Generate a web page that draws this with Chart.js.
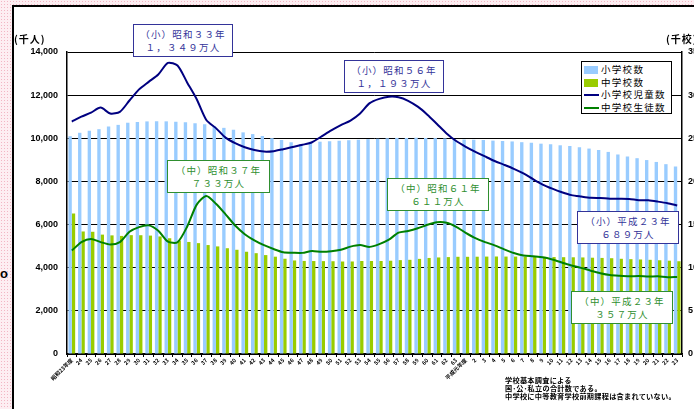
<!DOCTYPE html>
<html><head><meta charset="utf-8">
<script src="https://cdn.jsdelivr.net/npm/chart.js@4.4.1/dist/chart.umd.min.js"></script>
<style>
html,body{margin:0;padding:0;width:694px;height:409px;overflow:hidden;background:#fff;font-family:"Noto Sans CJK JP",sans-serif;}
#wrap{position:absolute;left:0;top:0;width:720px;height:409px;}
.pinkL{position:absolute;left:0;top:0;width:12px;height:409px;background-color:#fdeef2;background-image:radial-gradient(#f2b6c4 0.8px,transparent 0.9px);background-size:3px 3px;}
.pinkT{position:absolute;left:0;top:0;width:694px;height:5px;background-color:#fdeef2;background-image:radial-gradient(#f2b6c4 0.8px,transparent 0.9px);background-size:3px 3px;}
.vline{position:absolute;left:12px;top:5px;width:2px;height:404px;background:#000;}
.hline{position:absolute;left:12px;top:5px;width:682px;height:2px;background:#000;}
.o{position:absolute;left:0px;top:266px;font:bold 13px "Liberation Sans",sans-serif;color:#000;}
.unit{position:absolute;top:31px;font:bold 10px "Noto Sans CJK JP",sans-serif;color:#000;letter-spacing:1px;white-space:nowrap;}
.note{position:absolute;border:1.5px solid;background:#fff;text-align:center;font-size:9.5px;line-height:13px;letter-spacing:1.2px;padding-top:3px;box-sizing:border-box;}
.nv{border-color:#333399;color:#333399;}
.ng{border-color:#2f8f2f;color:#2f8f2f;}
.legend{position:absolute;left:581px;top:61px;width:91px;height:53px;border:1px solid #000;background:#fff;box-sizing:border-box;font-size:9.5px;letter-spacing:1.3px;color:#000;}
.li{position:absolute;left:2px;height:12px;line-height:12px;}
.sw{position:absolute;left:0;}
.lt{position:absolute;left:17px;top:-1px;white-space:nowrap;}
.foot{position:absolute;left:505px;top:376px;font-size:7.2px;line-height:8.2px;letter-spacing:0.25px;color:#000;font-weight:bold;white-space:nowrap;}
</style></head>
<body>
<div class="pinkL"></div><div class="pinkT"></div><div class="vline"></div><div class="hline"></div>
<div class="o">o</div>
<div id="wrap"><canvas id="c" width="720" height="409"></canvas></div>
<div class="unit" style="left:14px;">(千人)</div>
<div class="unit" style="left:666px;">(千校)</div>

<div class="note nv" style="left:133px;top:24px;width:100px;height:33px;">（小）昭和３３年<br>１，３４９万人</div>
<div class="note nv" style="left:344px;top:60px;width:100px;height:33px;">（小）昭和５６年<br>１，１９３万人</div>
<div class="note ng" style="left:167px;top:160px;width:103px;height:33px;">（中）昭和３７年<br>７３３万人</div>
<div class="note ng" style="left:387px;top:178px;width:102px;height:33px;">（中）昭和６１年<br>６１１万人</div>
<div class="note nv" style="left:577px;top:211px;width:102px;height:33px;">（小）平成２３年<br>６８９万人</div>
<div class="note ng" style="left:571px;top:291px;width:102px;height:33px;">（中）平成２３年<br>３５７万人</div>

<div class="legend">
  <div class="li" style="top:2px;"><div class="sw" style="top:2px;width:14px;height:8px;background:#99ccff;"></div><div class="lt">小学校数</div></div>
  <div class="li" style="top:14.5px;"><div class="sw" style="top:2px;width:14px;height:8px;background:#99cc00;"></div><div class="lt">中学校数</div></div>
  <div class="li" style="top:27px;"><div class="sw" style="top:5px;width:15px;height:2px;background:#000080;"></div><div class="lt">小学校児童数</div></div>
  <div class="li" style="top:39.5px;"><div class="sw" style="top:5px;width:15px;height:2px;background:#008000;"></div><div class="lt">中学校生徒数</div></div>
</div>

<div class="foot">学校基本調査による<br>国･公･私立の合計数である。<br>中学校に中等教育学校前期課程は含まれていない。</div>

<script>
// Categories: 昭和23年度 ... 昭和63年, 平成元年度 ... 平成23年
const categories = ["昭和23年度","24","25","26","27","28","29","30","31","32","33","34","35","36","37","38","39","40","41","42","43","44","45","46","47","48","49","50","51","52","53","54","55","56","57","58","59","60","61","62","63","平成元年度","2","3","4","5","6","7","8","9","10","11","12","13","14","15","16","17","18","19","20","21","22","23"];

// 小学校数 (千校)
const elemSchools = [25.237,25.638,25.878,26.056,26.377,26.555,26.804,26.880,26.957,26.988,26.964,26.916,26.858,26.741,26.615,26.423,
26.210,25.977,25.687,25.487,25.262,25.013,24.790,24.540,24.325,24.592,24.606,24.652,24.717,24.777,24.828,24.899,
24.945,25.005,25.043,25.045,25.064,25.040,25.020,24.982,24.901,24.851,24.827,24.798,24.730,24.676,24.635,24.548,
24.482,24.376,24.295,24.188,24.106,23.964,23.808,23.633,23.420,23.123,22.878,22.693,22.476,22.258,22.000,21.721];

// 中学校数 (千校)
const juniorSchools = [16.285,14.200,14.165,13.836,13.748,13.685,13.774,13.767,13.724,13.622,13.415,13.135,12.986,12.849,12.627,12.470,
12.259,12.079,11.851,11.684,11.463,11.278,11.040,10.839,10.786,10.774,10.764,10.751,10.719,10.723,10.778,10.780,
10.780,10.810,10.879,10.915,11.024,11.131,11.190,11.230,11.266,11.264,11.275,11.290,11.300,11.292,11.289,11.274,
11.269,11.257,11.236,11.220,11.209,11.191,11.159,11.134,11.102,11.035,10.992,10.955,10.915,10.864,10.815,10.751];

// 小学校児童数 (千人)
const elemPupils = [10775,11000,11191,11423,11148,11225,11751,12267,12616,12956,13492,13375,12591,11811,10848,10471,
10031,9776,9584,9453,9383,9403,9493,9596,9696,9817,10089,10365,10610,10819,11147,11630,
11827,11925,11902,11739,11465,11095,10665,10227,9873,9607,9373,9157,8947,8769,8583,8370,
8105,7855,7664,7500,7366,7297,7239,7227,7201,7197,7188,7133,7122,7064,6993,6887];

// 中学校生徒数 (千人)
const juniorStudents = [4793,5186,5333,5188,5076,5187,5664,5884,5963,5718,5210,5180,5900,6925,7328,6964,
6476,5957,5555,5271,5044,4865,4717,4694,4688,4780,4735,4762,4833,4977,5048,4966,
5094,5300,5623,5706,5828,5990,6106,6082,5896,5619,5369,5188,5036,4850,4681,4570,
4527,4481,4381,4244,4104,3992,3863,3748,3663,3626,3602,3615,3592,3601,3559,3574];

const leftTicks = [0,2000,4000,6000,8000,10000,12000,14000];
const rightTicks = [0,5,10,15,20,25,30,35];

const numFont = {family:"'Liberation Sans', Arial, sans-serif", size:9, weight:'bold'};

new Chart(document.getElementById('c'), {
  data: {
    labels: categories,
    datasets: [
      {type:'line', label:'小学校児童数', data:elemPupils, yAxisID:'y', borderColor:'#000080', borderWidth:2, pointRadius:0, tension:0.25, order:0},
      {type:'line', label:'中学校生徒数', data:juniorStudents, yAxisID:'y', borderColor:'#008000', borderWidth:2, pointRadius:0, tension:0.25, order:0},
      {type:'bar', label:'小学校数', data:elemSchools, yAxisID:'y2', backgroundColor:'#99ccff', categoryPercentage:0.7, barPercentage:1.0, order:1},
      {type:'bar', label:'中学校数', data:juniorSchools, yAxisID:'y2', backgroundColor:'#99cc00', categoryPercentage:0.7, barPercentage:1.0, order:1}
    ]
  },
  options: {
    responsive:false, animation:false,
    layout:{padding:{top:52,left:0,right:0,bottom:0}},
    plugins:{legend:{display:false}, tooltip:{enabled:false}},
    scales:{
      x:{
        offset:true,
        grid:{display:true, drawOnChartArea:false, drawTicks:true, tickLength:3, color:'#000', offset:true},
        border:{display:true, color:'#000', width:1.5},
        ticks:{autoSkip:false, maxRotation:45, minRotation:45, padding:0, color:'#000', font:{family:"'Noto Sans CJK JP', sans-serif", size:5.5, weight:'bold'}},
        afterFit:(s)=>{s.height=55;}
      },
      y:{
        position:'left', min:0, max:14000,
        afterBuildTicks:(s)=>{s.ticks = leftTicks.map(v=>({value:v}));},
        grid:{color:'#000', lineWidth:1, drawTicks:false},
        border:{display:true, color:'#000', width:1.5},
        ticks:{padding:9, color:'#000', font:numFont, callback:(v)=>v.toLocaleString('en-US')},
        afterFit:(s)=>{s.width=67;}
      },
      y2:{
        position:'right', min:0, max:35,
        afterBuildTicks:(s)=>{s.ticks = rightTicks.map(v=>({value:v}));},
        grid:{drawOnChartArea:false, drawTicks:false},
        border:{display:true, color:'#000', width:1.5},
        ticks:{padding:6, color:'#000', font:numFont},
        afterFit:(s)=>{s.width=38;}
      }
    }
  }
});
</script>
</body></html>
